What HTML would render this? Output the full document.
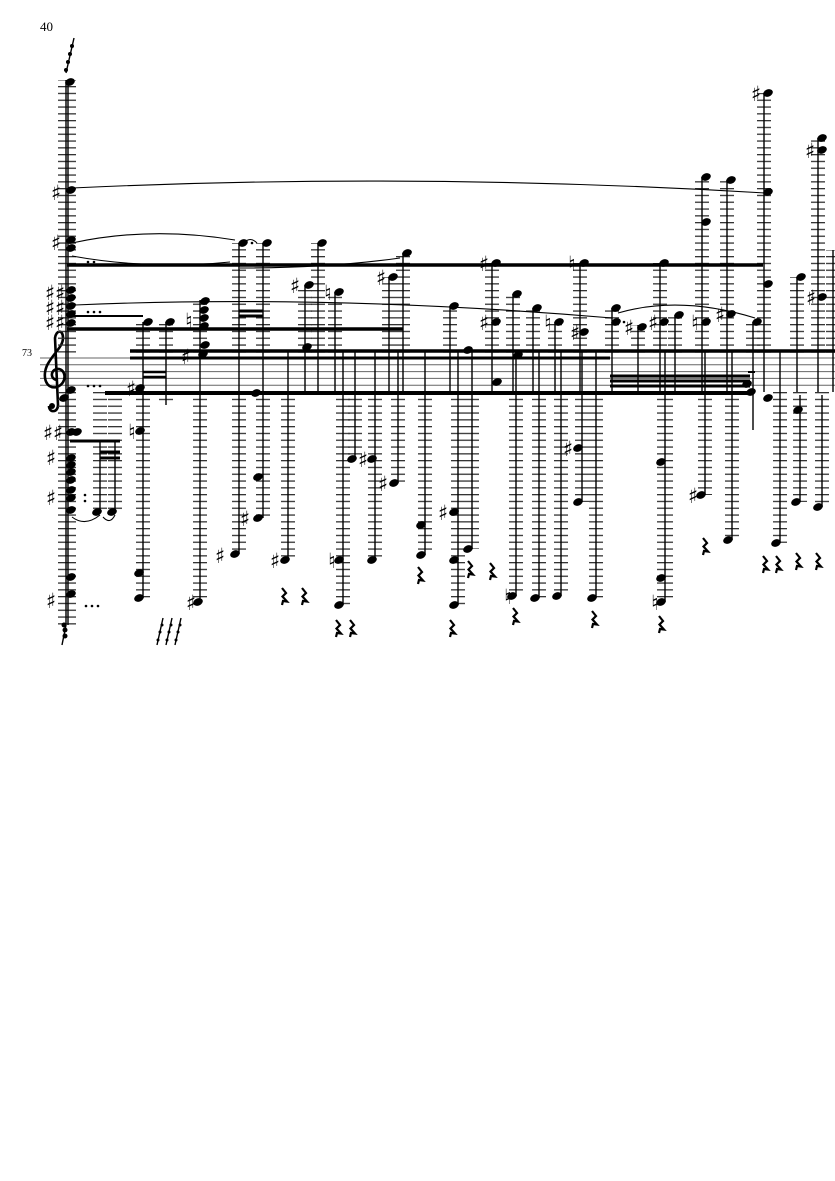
<!DOCTYPE html>
<html><head><meta charset="utf-8"><style>
html,body{margin:0;padding:0;background:#fff;width:835px;height:1181px;overflow:hidden}
svg{position:absolute;left:0;top:0}
.t{font-family:"Liberation Serif",serif;fill:#000}
.a{font-family:"DejaVu Sans",sans-serif;font-size:21px;fill:#000;font-weight:bold}
</style></head><body>
<svg width="835" height="1181" viewBox="0 0 835 1181" xmlns="http://www.w3.org/2000/svg">
<defs>
<pattern id="L" patternUnits="userSpaceOnUse" x="0" y="358" width="20" height="6.8">
<rect x="0" y="0" width="20" height="1.3" fill="#333"/>
</pattern>
<g id="r"><path d="M0,0 l4,5 l-3.5,3.5 l4.5,5 l-4,-0.5 l-1,4" stroke="#000" stroke-width="2.2" fill="none"/></g>
<ellipse id="n" cx="0" cy="0" rx="5" ry="3.6" transform="rotate(-22)" fill="#000"/>
</defs>
<rect width="835" height="1181" fill="#fff"/>
<text class="t" x="40" y="31" font-size="13">40</text>
<text class="t" x="22" y="356" font-size="10">73</text>

<!-- staff -->
<g stroke="#666" stroke-width="1">
<line x1="40" y1="358" x2="835" y2="358"/><line x1="40" y1="364.8" x2="835" y2="364.8"/>
<line x1="40" y1="371.6" x2="835" y2="371.6"/><line x1="40" y1="378.4" x2="835" y2="378.4"/>
<line x1="40" y1="385.2" x2="835" y2="385.2"/>
</g>
<!-- clef -->
<path d="M58,380 C50,380 50,370 57,369 C66,368 68,383 57,387 C45,390 41,374 49,362 C55,352 63,346 63,338 C63,329 56,330 55,338 L58,405 C58,413 49,413 49,406" stroke="#000" stroke-width="2.6" fill="none"/>
<circle cx="52" cy="406" r="3" fill="#000"/>

<!-- ledger bands above staff -->
<g fill="url(#L)">
<rect x="58" y="80" width="18" height="276"/>
<rect x="136" y="322" width="14" height="34"/><rect x="159" y="322" width="14" height="34"/>
<rect x="193" y="300" width="14" height="56"/>
<rect x="232" y="243" width="14" height="113"/><rect x="256" y="243" width="14" height="113"/>
<rect x="298" y="285" width="14" height="71"/><rect x="311" y="243" width="14" height="113"/>
<rect x="328" y="292" width="14" height="64"/><rect x="382" y="277" width="14" height="79"/>
<rect x="396" y="253" width="14" height="103"/><rect x="443" y="306" width="14" height="50"/>
<rect x="485" y="263" width="14" height="93"/><rect x="506" y="294" width="14" height="62"/>
<rect x="526" y="308" width="14" height="48"/><rect x="548" y="322" width="14" height="34"/>
<rect x="573" y="263" width="14" height="93"/><rect x="605" y="308" width="14" height="48"/>
<rect x="631" y="325" width="14" height="31"/><rect x="653" y="263" width="14" height="93"/>
<rect x="668" y="315" width="14" height="41"/><rect x="695" y="177" width="14" height="179"/>
<rect x="720" y="180" width="14" height="176"/><rect x="746" y="322" width="14" height="34"/>
<rect x="757" y="93" width="14" height="263"/><rect x="790" y="277" width="14" height="79"/>
<rect x="811" y="138" width="14" height="218"/><rect x="826" y="250" width="10" height="106"/>
</g>
<!-- ledger bands below staff -->
<g fill="url(#L)">
<rect x="58" y="391" width="18" height="234"/>
<rect x="93" y="391" width="14" height="121"/><rect x="108" y="391" width="14" height="121"/>
<rect x="136" y="391" width="14" height="207"/><rect x="159" y="391" width="14" height="10"/>
<rect x="193" y="391" width="14" height="211"/><rect x="232" y="391" width="14" height="163"/>
<rect x="256" y="391" width="14" height="127"/><rect x="281" y="391" width="14" height="169"/>
<rect x="336" y="391" width="14" height="214"/><rect x="348" y="391" width="14" height="68"/>
<rect x="368" y="391" width="14" height="169"/><rect x="391" y="391" width="14" height="92"/>
<rect x="418" y="391" width="14" height="164"/><rect x="451" y="391" width="14" height="214"/>
<rect x="465" y="391" width="14" height="158"/><rect x="509" y="391" width="14" height="205"/>
<rect x="532" y="391" width="14" height="207"/><rect x="554" y="391" width="14" height="205"/>
<rect x="575" y="391" width="14" height="111"/><rect x="589" y="391" width="14" height="207"/>
<rect x="657" y="391" width="16" height="211"/><rect x="698" y="391" width="14" height="104"/>
<rect x="725" y="391" width="14" height="149"/><rect x="773" y="391" width="14" height="152"/>
<rect x="793" y="391" width="14" height="111"/><rect x="815" y="391" width="14" height="116"/>
</g>

<!-- stems -->
<g stroke="#000" stroke-width="1.4">
<line x1="66" y1="80" x2="66" y2="625"/><line x1="68" y1="80" x2="68" y2="625"/>
<line x1="100" y1="440" x2="100" y2="512"/><line x1="115" y1="440" x2="115" y2="512"/>
<line x1="143" y1="322" x2="143" y2="598"/><line x1="166" y1="322" x2="166" y2="405"/>
<line x1="200" y1="300" x2="200" y2="602"/>
<line x1="239" y1="243" x2="239" y2="554"/><line x1="263" y1="243" x2="263" y2="518"/>
<line x1="288" y1="350" x2="288" y2="560"/><line x1="305" y1="285" x2="305" y2="392"/>
<line x1="318" y1="243" x2="318" y2="392"/><line x1="335" y1="292" x2="335" y2="392"/>
<line x1="343" y1="350" x2="343" y2="605"/><line x1="355" y1="350" x2="355" y2="459"/>
<line x1="375" y1="350" x2="375" y2="560"/><line x1="389" y1="277" x2="389" y2="392"/>
<line x1="398" y1="350" x2="398" y2="483"/><line x1="403" y1="253" x2="403" y2="392"/>
<line x1="425" y1="350" x2="425" y2="555"/><line x1="450" y1="306" x2="450" y2="392"/>
<line x1="458" y1="350" x2="458" y2="605"/><line x1="472" y1="350" x2="472" y2="549"/>
<line x1="492" y1="263" x2="492" y2="392"/><line x1="513" y1="294" x2="513" y2="392"/>
<line x1="516" y1="350" x2="516" y2="596"/><line x1="533" y1="308" x2="533" y2="392"/>
<line x1="539" y1="350" x2="539" y2="598"/><line x1="555" y1="322" x2="555" y2="392"/>
<line x1="561" y1="350" x2="561" y2="596"/><line x1="580" y1="263" x2="580" y2="392"/>
<line x1="582" y1="350" x2="582" y2="502"/><line x1="596" y1="350" x2="596" y2="598"/>
<line x1="612" y1="308" x2="612" y2="392"/><line x1="638" y1="325" x2="638" y2="392"/>
<line x1="660" y1="263" x2="660" y2="392"/><line x1="665" y1="350" x2="665" y2="602"/>
<line x1="675" y1="315" x2="675" y2="392"/><line x1="702" y1="177" x2="702" y2="392"/>
<line x1="705" y1="350" x2="705" y2="495"/><line x1="727" y1="180" x2="727" y2="392"/>
<line x1="732" y1="350" x2="732" y2="540"/><line x1="753" y1="322" x2="753" y2="430"/>
<line x1="764" y1="93" x2="764" y2="392"/><line x1="780" y1="350" x2="780" y2="543"/>
<line x1="797" y1="277" x2="797" y2="392"/><line x1="800" y1="395" x2="800" y2="502"/>
<line x1="818" y1="138" x2="818" y2="392"/><line x1="822" y1="395" x2="822" y2="507"/>
<line x1="833" y1="250" x2="833" y2="392"/>
<line x1="66" y1="73" x2="74" y2="38"/><line x1="66" y1="625" x2="62" y2="645"/>
<line x1="157" y1="645" x2="163" y2="618"/><line x1="166" y1="645" x2="172" y2="618"/><line x1="175" y1="645" x2="181" y2="618"/>
</g>

<!-- beams -->
<g stroke="#000">
<line x1="67" y1="265" x2="763" y2="265" stroke-width="3.5"/>
<line x1="67" y1="329" x2="403" y2="329" stroke-width="3.5"/>
<line x1="67" y1="316" x2="143" y2="316" stroke-width="2"/>
<line x1="130" y1="351" x2="835" y2="351" stroke-width="3.5"/>
<line x1="130" y1="358" x2="610" y2="358" stroke-width="3"/>
<line x1="105" y1="393" x2="752" y2="393" stroke-width="4"/>
<line x1="610" y1="376" x2="750" y2="376" stroke-width="3"/>
<line x1="610" y1="381" x2="750" y2="381" stroke-width="3"/>
<line x1="610" y1="386" x2="750" y2="386" stroke-width="3"/>
<line x1="239" y1="311" x2="263" y2="311" stroke-width="3"/>
<line x1="239" y1="316" x2="263" y2="316" stroke-width="3"/>
<line x1="70" y1="441" x2="120" y2="441" stroke-width="3"/>
<line x1="100" y1="452" x2="120" y2="452" stroke-width="3"/>
<line x1="100" y1="458" x2="120" y2="458" stroke-width="3"/>
<line x1="143" y1="372" x2="166" y2="372" stroke-width="2.5"/>
<line x1="143" y1="377" x2="166" y2="377" stroke-width="2.5"/>
<line x1="748" y1="372" x2="755" y2="372" stroke-width="2"/>
</g>

<!-- slurs -->
<g stroke="#000" stroke-width="1.1" fill="none">
<path d="M72,188 Q415,172 765,193"/>
<path d="M72,243 Q150,226 235,240"/>
<path d="M72,256 Q150,270 230,262"/>
<path d="M75,305 Q330,294 612,318"/>
<path d="M240,268 Q330,268 400,258"/>
<path d="M618,313 Q680,295 755,318"/>
<path d="M72,517 Q85,527 100,515"/><path d="M103,517 Q110,525 115,515"/>
<path d="M244,243 Q250,236 257,243"/>
</g>

<!-- noteheads -->
<g>
<use href="#n" x="70" y="82"/><use href="#n" x="71" y="190"/><use href="#n" x="71" y="240"/><use href="#n" x="71" y="248"/>
<use href="#n" x="71" y="290"/><use href="#n" x="71" y="298"/><use href="#n" x="71" y="306"/><use href="#n" x="71" y="314"/><use href="#n" x="71" y="323"/>
<use href="#n" x="71" y="390"/><use href="#n" x="64" y="398"/><use href="#n" x="71" y="432"/><use href="#n" x="77" y="432"/>
<use href="#n" x="71" y="458"/><use href="#n" x="71" y="465"/><use href="#n" x="71" y="472"/><use href="#n" x="71" y="480"/>
<use href="#n" x="71" y="490"/><use href="#n" x="71" y="498"/><use href="#n" x="71" y="510"/><use href="#n" x="71" y="577"/><use href="#n" x="71" y="594"/>
<use href="#n" x="97" y="512"/><use href="#n" x="112" y="512"/>
<use href="#n" x="148" y="322"/><use href="#n" x="170" y="322"/><use href="#n" x="140" y="388"/><use href="#n" x="140" y="431"/><use href="#n" x="139" y="573"/><use href="#n" x="139" y="598"/>
<use href="#n" x="205" y="301"/><use href="#n" x="204" y="310"/><use href="#n" x="204" y="318"/><use href="#n" x="204" y="326"/><use href="#n" x="205" y="345"/><use href="#n" x="203" y="354"/><use href="#n" x="198" y="602"/>
<use href="#n" x="243" y="243"/><use href="#n" x="267" y="243"/><use href="#n" x="235" y="554"/><use href="#n" x="258" y="477"/><use href="#n" x="258" y="518"/><use href="#n" x="256" y="393"/>
<use href="#n" x="309" y="285"/><use href="#n" x="307" y="347"/><use href="#n" x="322" y="243"/><use href="#n" x="339" y="292"/><use href="#n" x="285" y="560"/>
<use href="#n" x="339" y="560"/><use href="#n" x="339" y="605"/><use href="#n" x="352" y="459"/><use href="#n" x="372" y="459"/><use href="#n" x="372" y="560"/><use href="#n" x="394" y="483"/>
<use href="#n" x="393" y="277"/><use href="#n" x="407" y="253"/><use href="#n" x="421" y="525"/><use href="#n" x="421" y="555"/>
<use href="#n" x="454" y="306"/><use href="#n" x="468" y="350"/><use href="#n" x="454" y="512"/><use href="#n" x="454" y="560"/><use href="#n" x="454" y="605"/><use href="#n" x="468" y="549"/>
<use href="#n" x="496" y="263"/><use href="#n" x="496" y="322"/><use href="#n" x="497" y="382"/><use href="#n" x="517" y="294"/><use href="#n" x="518" y="355"/><use href="#n" x="512" y="596"/>
<use href="#n" x="537" y="308"/><use href="#n" x="535" y="598"/><use href="#n" x="559" y="322"/><use href="#n" x="557" y="596"/>
<use href="#n" x="584" y="263"/><use href="#n" x="584" y="332"/><use href="#n" x="578" y="448"/><use href="#n" x="578" y="502"/><use href="#n" x="592" y="598"/>
<use href="#n" x="616" y="308"/><use href="#n" x="616" y="322"/><use href="#n" x="642" y="327"/><use href="#n" x="664" y="263"/><use href="#n" x="664" y="322"/><use href="#n" x="679" y="315"/>
<use href="#n" x="661" y="462"/><use href="#n" x="661" y="578"/><use href="#n" x="661" y="602"/>
<use href="#n" x="706" y="177"/><use href="#n" x="706" y="222"/><use href="#n" x="706" y="322"/><use href="#n" x="701" y="495"/>
<use href="#n" x="731" y="180"/><use href="#n" x="731" y="314"/><use href="#n" x="728" y="540"/><use href="#n" x="757" y="322"/><use href="#n" x="751" y="392"/><use href="#n" x="747" y="384"/>
<use href="#n" x="768" y="93"/><use href="#n" x="768" y="192"/><use href="#n" x="768" y="284"/><use href="#n" x="768" y="398"/><use href="#n" x="776" y="543"/>
<use href="#n" x="801" y="277"/><use href="#n" x="798" y="410"/><use href="#n" x="796" y="502"/>
<use href="#n" x="822" y="138"/><use href="#n" x="822" y="150"/><use href="#n" x="822" y="297"/><use href="#n" x="818" y="507"/>
</g>

<!-- dots -->
<g fill="#000">
<circle cx="88" cy="262" r="1.3"/><circle cx="94" cy="262" r="1.3"/>
<circle cx="88" cy="312" r="1.3"/><circle cx="94" cy="312" r="1.3"/><circle cx="100" cy="312" r="1.3"/>
<circle cx="88" cy="386" r="1.3"/><circle cx="94" cy="386" r="1.3"/><circle cx="100" cy="386" r="1.3"/>
<circle cx="85" cy="495" r="1.3"/><circle cx="85" cy="501" r="1.3"/>
<circle cx="86" cy="606" r="1.3"/><circle cx="92" cy="606" r="1.3"/><circle cx="98" cy="606" r="1.3"/>
<circle cx="252" cy="243" r="1.3"/><circle cx="624" cy="322" r="1.3"/>
</g>

<!-- accidentals -->
<g class="a" transform="translate(-2,3)">
<text x="53" y="197">♯</text><text x="53" y="247">♯</text>
<text x="47" y="297">♯</text><text x="57" y="297">♯</text><text x="47" y="312">♯</text><text x="57" y="312">♯</text><text x="47" y="327">♯</text><text x="57" y="327">♯</text>
<text x="45" y="437">♯</text><text x="55" y="437">♯</text><text x="48" y="462">♯</text><text x="48" y="502">♯</text><text x="48" y="605">♯</text>
<text x="128" y="393">♯</text><text x="130" y="436">♮</text><text x="187" y="325">♮</text><text x="183" y="361">♯</text><text x="188" y="607">♯</text>
<text x="217" y="560">♯</text><text x="242" y="523">♯</text><text x="292" y="290">♯</text><text x="326" y="297">♮</text><text x="272" y="565">♯</text>
<text x="330" y="565">♮</text><text x="360" y="464">♯</text><text x="378" y="282">♯</text><text x="380" y="488">♯</text>
<text x="440" y="517">♯</text><text x="481" y="268">♯</text><text x="481" y="327">♯</text><text x="546" y="327">♮</text><text x="570" y="268">♮</text><text x="572" y="337">♯</text>
<text x="565" y="453">♯</text><text x="506" y="601">♮</text><text x="626" y="332">♯</text><text x="650" y="327">♯</text><text x="693" y="327">♮</text><text x="717" y="319">♯</text>
<text x="653" y="607">♮</text><text x="690" y="500">♯</text><text x="753" y="98">♯</text><text x="807" y="155">♯</text><text x="808" y="302">♯</text>
</g>

<!-- rests -->
<g>
<use href="#r" x="282" y="588"/><use href="#r" x="302" y="588"/><use href="#r" x="336" y="620"/><use href="#r" x="350" y="620"/>
<use href="#r" x="418" y="567"/><use href="#r" x="450" y="620"/><use href="#r" x="468" y="561"/><use href="#r" x="490" y="563"/>
<use href="#r" x="513" y="608"/><use href="#r" x="592" y="611"/><use href="#r" x="659" y="616"/><use href="#r" x="703" y="538"/>
<use href="#r" x="763" y="556"/><use href="#r" x="776" y="556"/><use href="#r" x="796" y="553"/><use href="#r" x="816" y="553"/>
</g>
<!-- small flags at top & bottom -->
<g fill="#000">
<circle cx="66" cy="70" r="2"/><circle cx="68" cy="62" r="2"/><circle cx="70" cy="54" r="2"/><circle cx="72" cy="46" r="2"/>
<circle cx="64" cy="625" r="2.5"/><circle cx="65" cy="630" r="2.5"/><circle cx="65" cy="636" r="2.5"/>
<circle cx="158" cy="640" r="1.5"/><circle cx="160" cy="632" r="1.5"/><circle cx="162" cy="625" r="1.5"/>
<circle cx="167" cy="640" r="1.5"/><circle cx="169" cy="632" r="1.5"/><circle cx="171" cy="625" r="1.5"/>
<circle cx="176" cy="640" r="1.5"/><circle cx="178" cy="632" r="1.5"/><circle cx="180" cy="625" r="1.5"/>
</g>
</svg>
</body></html>
